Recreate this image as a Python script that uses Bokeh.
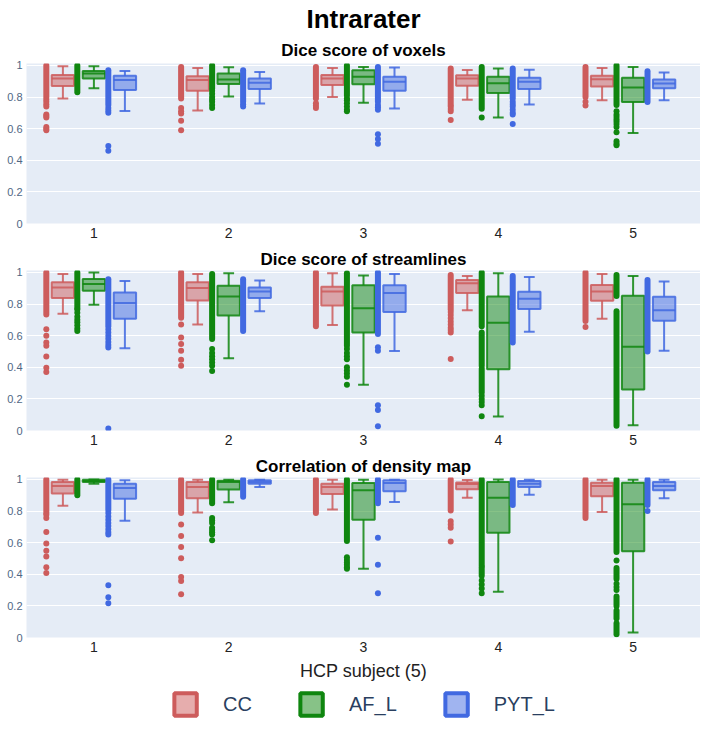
from bokeh.plotting import figure
from bokeh.models import Range1d, FixedTicker, Title, Legend, LegendItem, ColumnDataSource
from bokeh.layouts import column
from bokeh.embed import file_html
from bokeh.resources import INLINE

SUBJECTS = [1, 2, 3, 4, 5]
SPECIES = ["CC", "AF_L", "PYT_L"]
MAIN_TITLE = "Intrarater"
PANEL_TITLES = ["Dice score of voxels", "Dice score of streamlines", "Correlation of density map"]
X_LABEL = "HCP subject (5)"
Y_TICKS = [0, 0.2, 0.4, 0.6, 0.8, 1]
Y_TICK_LABELS = ["0", "0.2", "0.4", "0.6", "0.8", "1"]

# box stats per subject: [lower whisker, q1, median, q3, upper whisker]
VOX_CC_BOX = [[0.79, 0.87, 0.917, 0.94, 0.994], [0.715, 0.84, 0.907, 0.932, 0.983], [0.80, 0.876, 0.917, 0.94, 0.983],
              [0.783, 0.872, 0.917, 0.938, 0.971], [0.779, 0.866, 0.913, 0.934, 0.983]]
VOX_AF_BOX = [[0.856, 0.917, 0.948, 0.965, 0.994], [0.804, 0.882, 0.911, 0.948, 0.988], [0.763, 0.88, 0.928, 0.969, 0.99],
              [0.67, 0.825, 0.887, 0.928, 0.981], [0.573, 0.769, 0.86, 0.922, 0.99]]
VOX_PYT_BOX = [[0.711, 0.845, 0.907, 0.934, 0.965], [0.759, 0.85, 0.89, 0.917, 0.959], [0.728, 0.84, 0.897, 0.928, 0.986],
               [0.753, 0.85, 0.897, 0.922, 0.973], [0.779, 0.856, 0.885, 0.911, 0.955]]
# dense runs of data points per subject: [[from, to], ...]
VOX_CC_RUNS = [[[0.80, 1.0]], [[0.79, 0.99]], [[0.79, 0.99]], [[0.75, 0.98]], [[0.80, 0.99]]]
VOX_AF_RUNS = [[[0.83, 1.0]], [[0.855, 1.0]], [[0.81, 1.0]], [[0.726, 0.99]], [[0.75, 1.0]]]
VOX_PYT_RUNS = [[[0.75, 0.97]], [[0.77, 0.97]], [[0.77, 0.99]], [[0.79, 0.98]], [[0.769, 0.963]]]
# isolated data points per subject
VOX_CC_PTS = [[0.785, 0.77, 0.755, 0.74, 0.69, 0.68, 0.67, 0.61, 0.60, 0.59], [0.73, 0.71, 0.695, 0.65, 0.59],
              [0.76, 0.745, 0.73], [0.74, 0.725, 0.71, 0.654], [0.77, 0.746]]
VOX_AF_PTS = [[], [0.84, 0.82, 0.80, 0.785, 0.77, 0.75, 0.73], [0.79, 0.78, 0.76, 0.74, 0.72, 0.71], [0.67],
              [0.71, 0.69, 0.675, 0.66, 0.645, 0.63, 0.61, 0.577, 0.52, 0.505, 0.495]]
VOX_PYT_PTS = [[0.73, 0.715, 0.70, 0.49, 0.46], [0.755, 0.74], [0.75, 0.735, 0.72, 0.565, 0.535, 0.505],
               [0.77, 0.755, 0.74, 0.72, 0.70, 0.69, 0.63], []]

STR_CC_BOX = [[0.738, 0.838, 0.904, 0.938, 0.99], [0.67, 0.823, 0.902, 0.938, 0.99], [0.667, 0.79, 0.879, 0.91, 0.994],
              [0.761, 0.869, 0.931, 0.952, 0.977], [0.707, 0.821, 0.879, 0.921, 0.99]]
STR_AF_BOX = [[0.796, 0.884, 0.927, 0.958, 1.0], [0.457, 0.728, 0.848, 0.915, 0.994], [0.29, 0.62, 0.773, 0.919, 0.98],
              [0.089, 0.387, 0.682, 0.848, 0.994], [0.033, 0.26, 0.53, 0.852, 0.977]]
STR_PYT_BOX = [[0.52, 0.707, 0.807, 0.873, 0.946], [0.755, 0.838, 0.879, 0.904, 0.948], [0.503, 0.75, 0.869, 0.919, 0.99],
               [0.624, 0.769, 0.834, 0.877, 0.971], [0.505, 0.694, 0.761, 0.846, 0.942]]
STR_CC_RUNS = [[[0.734, 1.0]], [[0.713, 1.0]], [[0.66, 1.0]], [[0.765, 0.983]], [[0.692, 1.0]]]
STR_AF_RUNS = [[[0.775, 1.0]], [[0.578, 0.99]], [[0.536, 0.994]], [[0.66, 1.0], [0.41, 0.62], [0.24, 0.39]],
               [[0.85, 0.983], [0.03, 0.755]]]
STR_PYT_RUNS = [[[0.66, 0.956]], [[0.63, 0.956]], [[0.61, 1.0]], [[0.557, 0.977]], [[0.5, 0.952]]]
STR_CC_PTS = [[0.64, 0.60, 0.557, 0.536, 0.468, 0.397, 0.37], [0.67, 0.588, 0.547, 0.505, 0.447, 0.41], [],
              [0.75, 0.73, 0.71, 0.69, 0.67, 0.65, 0.635, 0.62, 0.453], [0.655]]
STR_AF_PTS = [[0.765, 0.745, 0.72, 0.70, 0.685, 0.665, 0.645, 0.63], [0.515, 0.49, 0.47, 0.45, 0.43, 0.41, 0.376],
              [0.515, 0.49, 0.47, 0.45, 0.40, 0.38, 0.36, 0.34, 0.29], [0.22, 0.20, 0.18, 0.16, 0.09], []]
STR_PYT_PTS = [[0.64, 0.62, 0.60, 0.58, 0.56, 0.54, 0.525, 0.012], [], [0.526, 0.505, 0.16, 0.13, 0.027], [], []]

COR_CC_BOX = [[0.834, 0.911, 0.959, 0.983, 0.998], [0.791, 0.88, 0.952, 0.983, 0.998], [0.81, 0.907, 0.952, 0.973, 0.998],
              [0.884, 0.938, 0.971, 0.981, 0.996], [0.793, 0.894, 0.959, 0.979, 0.998]]
COR_AF_BOX = [[0.973, 0.983, 0.99, 0.998, 1.0], [0.855, 0.936, 0.983, 0.992, 0.998], [0.435, 0.745, 0.932, 0.977, 0.998],
              [0.29, 0.663, 0.884, 0.983, 1.0], [0.031, 0.545, 0.843, 0.979, 0.998]]
COR_PYT_BOX = [[0.739, 0.878, 0.946, 0.973, 0.994], [0.952, 0.973, 0.983, 0.994, 0.998], [0.857, 0.925, 0.977, 0.994, 0.998],
               [0.903, 0.952, 0.973, 0.99, 0.998], [0.88, 0.932, 0.959, 0.983, 0.998]]
COR_CC_RUNS = [[[0.787, 1.0]], [[0.787, 1.0]], [[0.787, 1.0]], [[0.803, 1.0]], [[0.756, 1.0]]]
COR_AF_RUNS = [[[0.90, 1.0]], [[0.849, 1.0]], [[0.61, 1.0]], [[0.455, 1.0], [0.39, 0.445]],
               [[0.54, 1.0], [0.37, 0.44], [0.20, 0.26], [0.12, 0.17], [0.02, 0.09]]]
COR_PYT_RUNS = [[[0.807, 1.0]], [[0.89, 1.0]], [[0.849, 1.0]], [[0.838, 1.0]], [[0.838, 1.0]]]
COR_CC_PTS = [[0.776, 0.756, 0.667, 0.594, 0.549, 0.513, 0.445, 0.408], [0.714, 0.642, 0.573, 0.501, 0.383, 0.358, 0.273],
              [], [0.735, 0.714, 0.694, 0.607], []]
COR_AF_PTS = [[], [0.756, 0.74, 0.725, 0.694, 0.68, 0.665, 0.652, 0.615], [0.507, 0.49, 0.475, 0.46, 0.445, 0.435],
              [0.36, 0.335, 0.31, 0.28], [0.487, 0.34, 0.32, 0.30]]
COR_PYT_PTS = [[0.787, 0.765, 0.745, 0.725, 0.705, 0.685, 0.665, 0.652, 0.331, 0.255, 0.217], [], [0.631, 0.46, 0.28], [],
               [0.80]]

PANELS = [
    {"CC": (VOX_CC_BOX, VOX_CC_RUNS, VOX_CC_PTS), "AF_L": (VOX_AF_BOX, VOX_AF_RUNS, VOX_AF_PTS),
     "PYT_L": (VOX_PYT_BOX, VOX_PYT_RUNS, VOX_PYT_PTS)},
    {"CC": (STR_CC_BOX, STR_CC_RUNS, STR_CC_PTS), "AF_L": (STR_AF_BOX, STR_AF_RUNS, STR_AF_PTS),
     "PYT_L": (STR_PYT_BOX, STR_PYT_RUNS, STR_PYT_PTS)},
    {"CC": (COR_CC_BOX, COR_CC_RUNS, COR_CC_PTS), "AF_L": (COR_AF_BOX, COR_AF_RUNS, COR_AF_PTS),
     "PYT_L": (COR_PYT_BOX, COR_PYT_RUNS, COR_PYT_PTS)},
]

COLORS = {"CC": "#cd5c5c", "AF_L": "#0f860f", "PYT_L": "#4169e1"}
OFFSETS = {"CC": -0.23, "AF_L": 0.0, "PYT_L": 0.23}
PT_OFF = -0.123
BOX_HALF = 0.083
CAP_HALF = 0.04
FONT = "Liberation Sans"
BG = "#e5ecf6"


def make_fig(bottom):
    p = figure(frame_width=674, frame_height=160, output_backend="svg", toolbar_location=None,
               x_range=Range1d(0.5, 5.5), y_range=Range1d(0, 1.012),
               min_border_left=26, min_border_right=0, min_border_top=0, min_border_bottom=bottom)
    p.background_fill_color = BG
    p.border_fill_color = "white"
    p.outline_line_color = None
    p.xgrid.grid_line_color = None
    p.ygrid.grid_line_color = "white"
    p.ygrid.grid_line_width = 1
    p.yaxis.ticker = FixedTicker(ticks=Y_TICKS)
    p.yaxis.major_label_overrides = {t: l for t, l in zip(Y_TICKS, Y_TICK_LABELS)}
    p.yaxis.major_label_text_font = FONT
    p.yaxis.major_label_text_font_size = "11px"
    p.yaxis.major_label_text_color = "#506784"
    p.yaxis.major_label_standoff = 4
    p.xaxis.ticker = FixedTicker(ticks=SUBJECTS)
    p.xaxis.major_label_text_font = FONT
    p.xaxis.major_label_text_font_size = "14px"
    p.xaxis.major_label_text_color = "#222222"
    p.xaxis.major_label_standoff = 4
    for ax in (p.xaxis, p.yaxis):
        ax.axis_line_color = None
        ax.major_tick_line_color = None
        ax.minor_tick_line_color = None
        ax.major_tick_in = 0
        ax.major_tick_out = 0
    return p


def box_source(box, sp):
    xs = [s + OFFSETS[sp] for s in SUBJECTS]
    return ColumnDataSource(dict(
        x=xs, l=[x - BOX_HALF for x in xs], r=[x + BOX_HALF for x in xs],
        cl=[x - CAP_HALF for x in xs], cr=[x + CAP_HALF for x in xs],
        lo=[b[0] for b in box], q1=[b[1] for b in box], med=[b[2] for b in box],
        q3=[b[3] for b in box], hi=[b[4] for b in box]))


def draw_panel(p, panel):
    sources = {}
    for sp in SPECIES:
        box, runs, pts = panel[sp]
        c = COLORS[sp]
        src = box_source(box, sp)
        sources[sp] = src
        xs = src.data["x"]
        p.quad(left="l", right="r", bottom="q1", top="q3", source=src, fill_color=c, fill_alpha=0.5,
               line_color=c, line_alpha=0.85, line_width=2)
        for a0, a1, b0, b1 in (("l", "r", "med", "med"), ("x", "x", "q3", "hi"), ("x", "x", "q1", "lo"),
                               ("cl", "cr", "hi", "hi"), ("cl", "cr", "lo", "lo")):
            p.segment(x0=a0, x1=a1, y0=b0, y1=b1, source=src, line_color=c, line_alpha=0.85, line_width=2)
        rx, r0, r1 = [], [], []
        for x, segs in zip(xs, runs):
            for a, b in segs:
                rx.append(x + PT_OFF)
                r0.append(a)
                r1.append(b)
        p.segment(x0=rx, x1=rx, y0=r0, y1=r1, line_color=c, line_width=6, line_cap="round")
        px, py = [], []
        for x, vals in zip(xs, pts):
            for v in vals:
                px.append(x + PT_OFF)
                py.append(v)
        p.scatter(px, py, marker="circle", size=6, fill_color=c, line_color=None)
    return sources


def style_title(t, size):
    t.align = "center"
    t.text_font = FONT
    t.text_font_size = size
    t.text_font_style = "bold"
    t.text_color = "black"


figs = []
sources = None
for i, b in enumerate([22, 22, 0]):
    p = make_fig(b)
    sources = draw_panel(p, PANELS[i])
    if i == 0:
        p.title.text = MAIN_TITLE
        style_title(p.title, "26px")
        p.title.standoff = 3
        sub = Title(text=PANEL_TITLES[i], standoff=7)
        style_title(sub, "17px")
        p.add_layout(sub, "above")
    else:
        p.title.text = PANEL_TITLES[i]
        style_title(p.title, "17px")
        p.title.standoff = 4
    figs.append(p)

bot = figs[2]
bot.xaxis.axis_label = X_LABEL
bot.xaxis.axis_label_text_font = FONT
bot.xaxis.axis_label_text_font_size = "18px"
bot.xaxis.axis_label_text_font_style = "normal"
bot.xaxis.axis_label_text_color = "#222222"
bot.xaxis.axis_label_standoff = 6

# legend in its own strip below the last panel
lp = figure(frame_width=674, frame_height=42, output_backend="svg", toolbar_location=None,
            x_range=Range1d(0.5, 5.5), y_range=Range1d(0, 1.012), x_axis_location=None, y_axis_location=None,
            min_border_left=26, min_border_right=0, min_border_top=0, min_border_bottom=0)
lp.outline_line_color = None
lp.xgrid.grid_line_color = None
lp.ygrid.grid_line_color = None
lp.background_fill_color = "white"
lp.border_fill_color = "white"
items = []
for sp in SPECIES:
    c = COLORS[sp]
    r = lp.quad(left="l", right="r", bottom="q1", top="q3", source=sources[sp], fill_color=c, fill_alpha=0.5,
                line_color=c, line_width=4, visible=False)
    items.append(LegendItem(label=sp, renderers=[r]))
legend = Legend(items=items, orientation="horizontal", location="center",
                glyph_width=28, glyph_height=28,
                label_text_font=FONT, label_text_font_size="20px", label_text_color="#2a3f5f",
                label_standoff=24, spacing=45, padding=2, margin=0, border_line_alpha=0,
                background_fill_alpha=0, inactive_fill_alpha=0)
lp.add_layout(legend)

layout = column(*figs, lp, spacing=0)
open("out.html", "w").write(file_html(layout, INLINE))
